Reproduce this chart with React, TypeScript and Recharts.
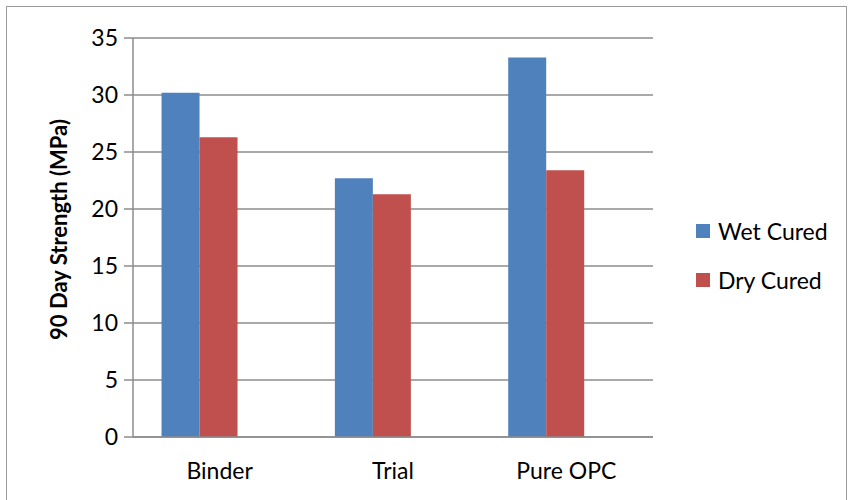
import { BarChart, Bar, XAxis, YAxis, CartesianGrid } from "recharts";

const categories = ["Binder", "Trial", "Pure OPC"];
const wetCured = [30.2, 22.7, 33.3];
const dryCured = [26.3, 21.3, 23.4];
const yTicks = [0, 5, 10, 15, 20, 25, 30, 35];

const SERIES = [
  { key: "wet", name: "Wet Cured", color: "#4F81BD" },
  { key: "dry", name: "Dry Cured", color: "#C0504D" },
];

const data = categories.map((c, i) => ({ name: c, wet: wetCured[i], dry: dryCured[i] }));

const FONT = "Lato, 'Open Sans', sans-serif";
const GRID = "#8c8c8c";

// bars sit a bit left of the labels in the original, so labels get nudged right
function CategoryTick(props: any) {
  const { x, y, payload } = props;
  return (
    <text x={x + 20} y={y + 18} dy="0.71em" textAnchor="middle" fill="#000" fontSize={23} fontFamily={FONT}>
      {payload.value}
    </text>
  );
}

// legend drawn outside recharts so it doesn't eat plot width
function LegendBox() {
  return (
    <div style={{ position: "absolute", left: 696, top: 206, fontFamily: FONT, fontSize: 23, color: "#000" }}>
      {SERIES.map((s) => (
        <div key={s.key} style={{ display: "flex", alignItems: "center", height: 49 }}>
          <span style={{ width: 14, height: 14, background: s.color, marginRight: 8 }} />
          <span>{s.name}</span>
        </div>
      ))}
    </div>
  );
}

export default function App() {
  return (
    <div style={{ position: "absolute", left: 0, top: 0, width: 850, height: 500, background: "#fff", overflow: "hidden" }}>
      <div
        style={{
          position: "absolute",
          left: 6,
          top: 6,
          width: 841,
          height: 510,
          border: "1px solid #9a9a9a",
          boxSizing: "border-box",
        }}
      />
      <BarChart
        width={850}
        height={500}
        data={data}
        margin={{ top: 38, right: 197, bottom: 33, left: 0 }}
        barCategoryGap="28%"
        barGap={0}
      >
        <CartesianGrid vertical={false} stroke={GRID} strokeWidth={1.5} />
        <XAxis
          dataKey="name"
          stroke={GRID}
          strokeWidth={1.5}
          tickLine={false}
          padding={{ left: -20, right: 20 }}
          tick={<CategoryTick />}
        />
        <YAxis
          width={133}
          domain={[0, 35]}
          ticks={yTicks}
          stroke={GRID}
          strokeWidth={1.5}
          tickSize={9}
          tick={{ fill: "#000", fontSize: 23, fontFamily: FONT }}
          tickMargin={6}
          label={{
            value: "90 Day Strength (MPa)",
            angle: -90,
            position: "insideLeft",
            dx: 54,
            dy: -8,
            style: { textAnchor: "middle", fontWeight: 700, fontSize: 22, fontFamily: FONT, fill: "#000" },
          }}
        />
        {SERIES.map((s) => (
          <Bar key={s.key} dataKey={s.key} name={s.name} fill={s.color} isAnimationActive={false} />
        ))}
      </BarChart>
      <LegendBox />
    </div>
  );
}
